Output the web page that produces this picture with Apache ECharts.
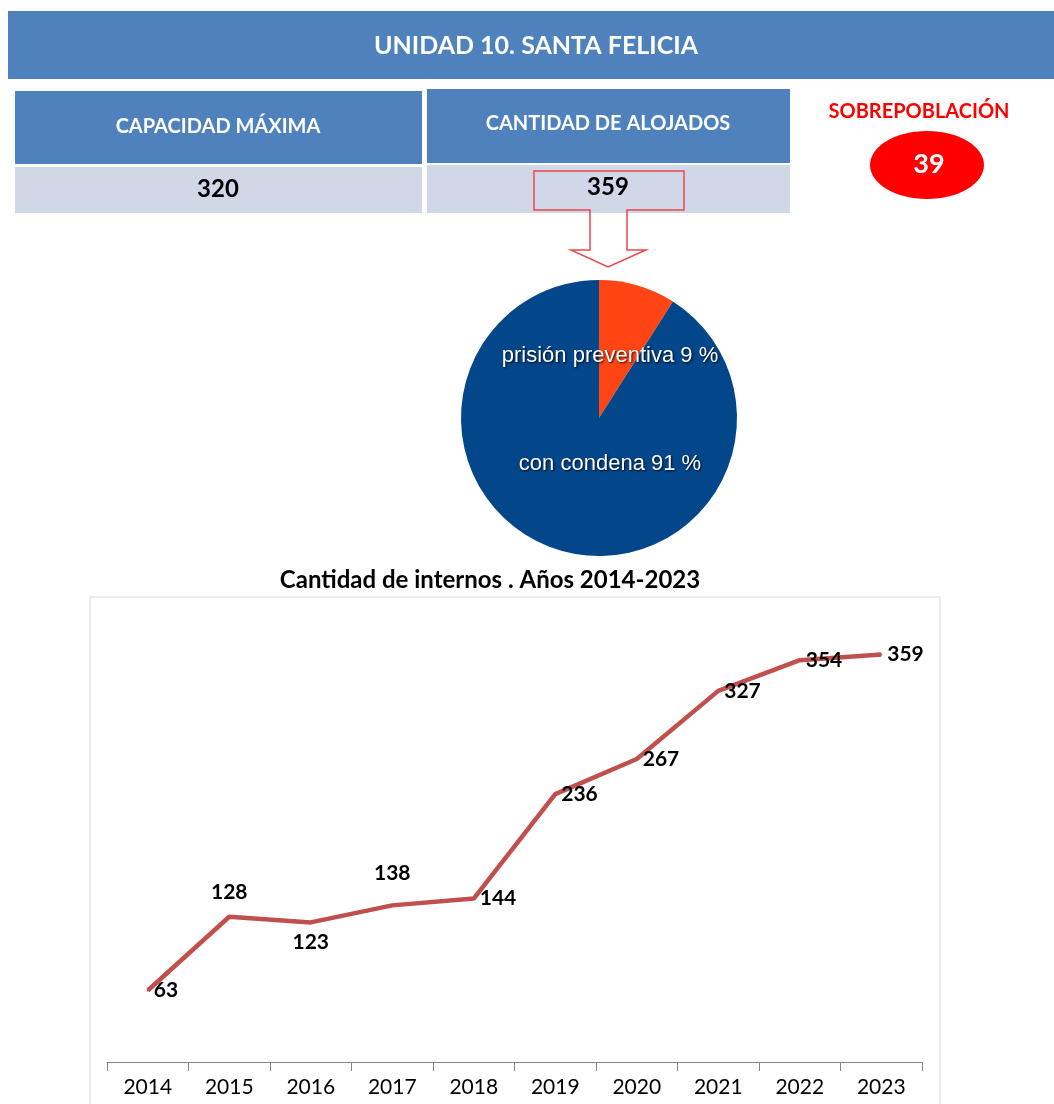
<!DOCTYPE html>
<html>
<head>
<meta charset="utf-8">
<script src="https://cdn.jsdelivr.net/npm/echarts@6/dist/echarts.min.js"></script>
<style>
  html, body { margin: 0; padding: 0; background: #fff; }
  #chart { width: 1054px; height: 1104px; }
</style>
</head>
<body>
<div id="chart"></div>
<script>
// header figures
const capacidad = 320
const alojados = 359
const sobrepoblacion = 39

// pie: situación procesal
const pieNames = ['prisión preventiva', 'con condena']
const pieValues = [9, 91]
const pieColors = ['#ff4513', '#03468a']

// line: cantidad de internos por año
const years = ['2014', '2015', '2016', '2017', '2018', '2019', '2020', '2021', '2022', '2023']
const internos = [63, 128, 123, 138, 144, 236, 267, 327, 354, 359]
const labelPos = ['right', 'top', 'bottom', 'top', 'right', 'right', 'right', 'right', 'right', 'right']
const labelGap = [5, 13, 8, 21, 5, 5, 5, 5, 5, 5]

const blue = '#4f81bd'
const light = '#d0d8e8'
const font = 'Lato, "Open Sans", sans-serif'

const chart = echarts.init(document.getElementById('chart'))

// labels inside the pie sit where the original put them
const pieLabelSpot = [{ x: 610, y: 356 }, { x: 610, y: 464 }]

chart.setOption({
  animation: false,
  title: {
    text: 'Cantidad de internos . Años 2014-2023',
    left: 485, top: 563, textAlign: 'center',
    textStyle: { fontFamily: font, fontWeight: 'bold', fontSize: 24, color: '#000' },
  },
  graphic: [
    // banner
    { type: 'rect', shape: { x: 8, y: 11, width: 1046, height: 68 }, style: { fill: blue } },
    { type: 'text', x: 536, y: 46, style: { text: 'UNIDAD 10. SANTA FELICIA', fill: '#fff', font: `bold 25px ${font}`, align: 'center', verticalAlign: 'middle' } },
    // capacidad
    { type: 'rect', shape: { x: 15, y: 91, width: 407, height: 73 }, style: { fill: blue } },
    { type: 'rect', shape: { x: 15, y: 167, width: 407, height: 46 }, style: { fill: light } },
    { type: 'text', x: 218, y: 127, style: { text: 'CAPACIDAD MÁXIMA', fill: '#fff', font: `bold 20px ${font}`, align: 'center', verticalAlign: 'middle' } },
    { type: 'text', x: 218, y: 189, style: { text: String(capacidad), fill: '#000', font: `bold 24px ${font}`, align: 'center', verticalAlign: 'middle' } },
    // alojados
    { type: 'rect', shape: { x: 427, y: 89, width: 363, height: 74 }, style: { fill: blue } },
    { type: 'rect', shape: { x: 427, y: 165, width: 363, height: 48 }, style: { fill: light } },
    { type: 'text', x: 608, y: 124, style: { text: 'CANTIDAD DE ALOJADOS', fill: '#fff', font: `bold 20px ${font}`, align: 'center', verticalAlign: 'middle' } },
    { type: 'text', x: 608, y: 187, style: { text: String(alojados), fill: '#000', font: `bold 24px ${font}`, align: 'center', verticalAlign: 'middle' } },
    // callout arrow
    {
      type: 'polygon',
      shape: { points: [[534, 171], [684, 171], [684, 210], [627, 210], [627, 250], [646, 250], [608, 267], [571, 250], [590, 250], [590, 210], [534, 210]] },
      style: { fill: 'none', stroke: '#f0444c', lineWidth: 1.5 },
    },
    // sobrepoblación
    { type: 'text', x: 919, y: 112, style: { text: 'SOBREPOBLACIÓN', fill: '#ff0000', font: `bold 20px ${font}`, align: 'center', verticalAlign: 'middle' } },
    { type: 'ellipse', shape: { cx: 927, cy: 165, rx: 57, ry: 34 }, style: { fill: '#ff0000' } },
    { type: 'text', x: 929, y: 164, style: { text: String(sobrepoblacion), fill: '#fff', font: `bold 27px ${font}`, align: 'center', verticalAlign: 'middle' } },
    // frame of the line chart
    { type: 'rect', shape: { x: 90, y: 597, width: 850, height: 530 }, style: { fill: 'none', stroke: '#d9d9d9', lineWidth: 1 } },
  ],
  grid: { left: 107, right: 132, top: 608, bottom: 42 },
  xAxis: {
    type: 'category',
    data: years,
    boundaryGap: true,
    axisLine: { lineStyle: { color: '#868686', width: 1 } },
    axisTick: { show: true, length: 9, lineStyle: { color: '#868686' } },
    axisLabel: { color: '#000', fontFamily: font, fontSize: 21, margin: 15 },
  },
  yAxis: {
    type: 'value', min: 0, max: 400,
    show: false,
    splitLine: { show: false },
  },
  series: [
    {
      type: 'pie',
      center: [599, 418],
      radius: 138,
      startAngle: 90,
      clockwise: true,
      data: pieNames.map((n, i) => ({ name: n, value: pieValues[i], itemStyle: { color: pieColors[i] } })),
      label: {
        show: true,
        position: 'inside',
        formatter: p => `${p.name} ${p.value} %`,
        color: '#fff',
        fontFamily: '"Liberation Sans", Arial, sans-serif',
        fontSize: 22,
        textShadowColor: 'rgba(0,0,0,0.85)',
        textShadowBlur: 2,
        textShadowOffsetX: 1,
        textShadowOffsetY: 1,
      },
      labelLayout: p => ({ x: pieLabelSpot[p.dataIndex].x, y: pieLabelSpot[p.dataIndex].y, align: 'center', verticalAlign: 'middle' }),
      labelLine: { show: false },
      emphasis: { disabled: true },
    },
    {
      type: 'line',
      data: internos.map((v, i) => ({
        value: v,
        label: { show: true, position: labelPos[i], distance: labelGap[i] },
      })),
      symbol: 'circle',
      symbolSize: 2,
      showSymbol: true,
      itemStyle: { color: '#c0504d' },
      lineStyle: { color: '#c0504d', width: 4.5 },
      label: {
        show: true,
        color: '#000',
        fontFamily: font,
        fontWeight: 'bold',
        fontSize: 21,
      },
      labelLayout: { hideOverlap: false },
    },
  ],
})
</script>
</body>
</html>
